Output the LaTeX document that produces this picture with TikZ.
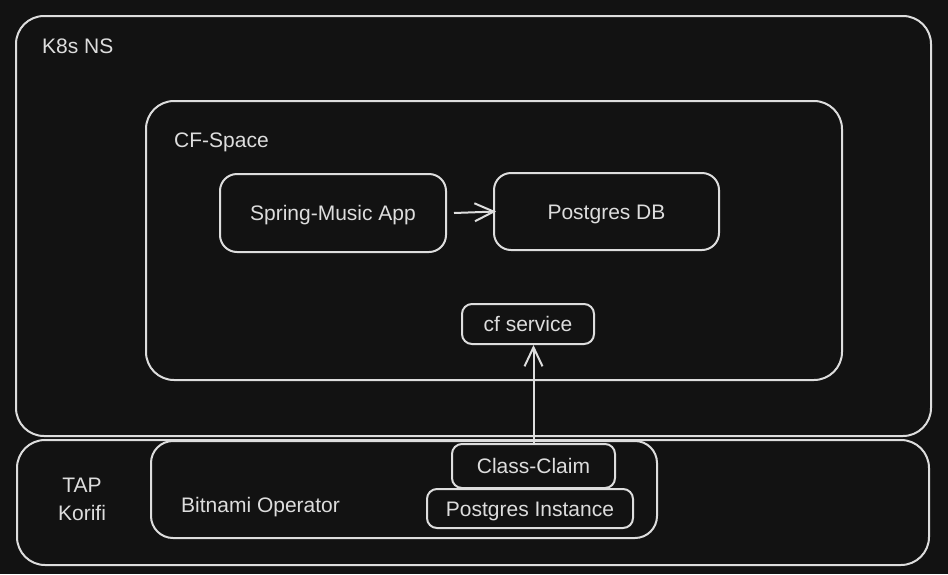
\documentclass[tikz,border=0pt]{standalone}
\usepackage{fontspec}
\setmainfont{Liberation Sans}
\usetikzlibrary{arrows.meta}
\definecolor{bgdark}{HTML}{121212}
\definecolor{ink}{HTML}{DDDDDD}
\begin{document}
\begin{tikzpicture}[x=1pt,y=-1pt,
    every node/.style={text=ink,font=\fontsize{21}{28}\selectfont},
    panel/.style={draw=ink,line width=2pt,rounded corners=#1,inner sep=0pt},
    panel/.default=10pt,
    box/.style={panel=#1,text height=15pt,text depth=0pt},
    box/.default=10pt,
    lbl/.style={anchor=base west,inner sep=0pt},
    flow/.style={draw=ink,line width=2pt,-{Straight Barb[length=19pt,width=18pt]}}]
    \fill[bgdark] (0,0) rectangle (948,574);
    \useasboundingbox (0,0) rectangle (948,574);
    \node[panel=28pt,minimum width=915pt,minimum height=420pt] (k8s) at (473.5,226) {};
    \node[lbl] (k8slbl) at (42,53) {K8s NS};
    \node[panel=28pt,minimum width=696pt,minimum height=279pt] (cfspace) at (494,240.5) {};
    \node[lbl] (cfslbl) at (174,147) {CF-Space};
    \node[box=17pt,minimum width=226pt,minimum height=78pt] (spring) at (333,213) {Spring-Music App};
    \node[box=17pt,minimum width=225pt,minimum height=77pt] (pgdb) at (606.5,211.5) {Postgres DB};
    \node[box,minimum width=132pt,minimum height=40pt] (cfsvc) at (528,324) {cf service};
    \node[panel=28pt,minimum width=912pt,minimum height=125pt] (tap) at (473,502.5) {};
    \node[align=center] (taplbl) at (82,499) {TAP\\Korifi};
    \node[panel=22pt,minimum width=506pt,minimum height=97pt] (bitnami) at (404,489.5) {};
    \node[lbl] (bitlbl) at (181,512) {Bitnami Operator};
    \node[box,minimum width=163pt,minimum height=44pt] (claim) at (533.5,466) {Class-Claim};
    \node[box,minimum width=206pt,minimum height=39pt] (pginst) at (530,508.5) {Postgres Instance};
    \draw[flow] ([xshift=7pt]spring.east) -- ([xshift=3pt]pgdb.west);
    \draw[flow] (claim.north) -- (claim.north |- cfsvc.south);
\end{tikzpicture}
\end{document}
